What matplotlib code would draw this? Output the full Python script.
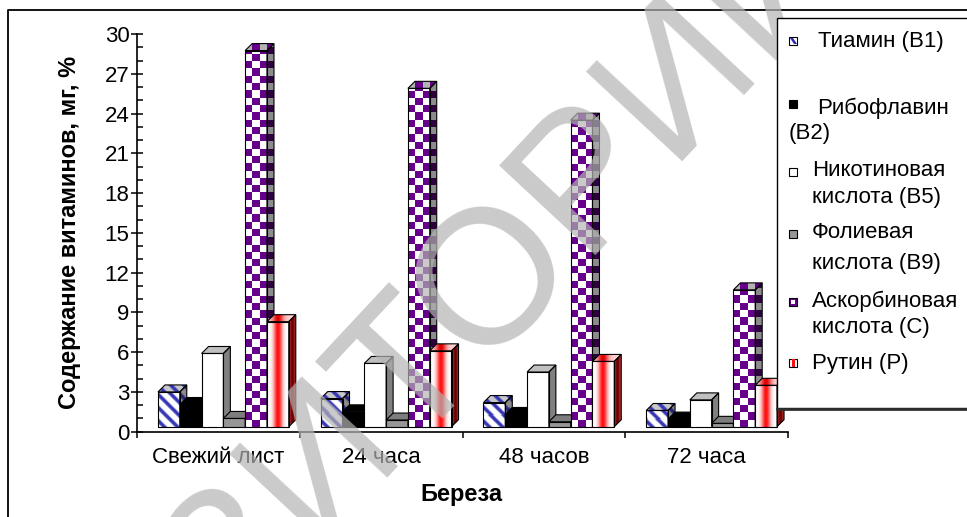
import matplotlib
matplotlib.use("Agg")
import matplotlib.pyplot as plt
import numpy as np
from matplotlib.patches import Polygon, Rectangle
from matplotlib.ticker import MultipleLocator

plt.rcParams['font.family'] = ['Liberation Sans', 'DejaVu Sans']

# содержание витаминов в листьях березы, мг %
categories = ['Свежий лист', '24 часа', '48 часов', '72 часа']
thiamin = [3.0, 2.5, 2.2, 1.6]
riboflavin = [2.05, 1.5, 1.3, 0.95]
nicotinic = [5.9, 5.15, 4.5, 2.4]
folic = [1.0, 0.88, 0.75, 0.63]
ascorbic = [28.75, 25.9, 23.5, 10.7]
rutin = [8.3, 6.1, 5.3, 3.5]

W, H = 967, 517
fig = plt.figure(figsize=(W / 100, H / 100), dpi=100)

def fx(px):
    return px / W

def fy(py):
    return 1 - py / H

AX_L, AX_R, AX_B, AX_T = 137, 788, 431.7, 34
ax = fig.add_axes([fx(AX_L), fy(AX_B), (AX_R - AX_L) / W, (AX_B - AX_T) / H])
ax.set_xlim(0, 4)
ax.set_ylim(0, 30)
PX = (AX_R - AX_L) / 4.0     # pixels per category
PY = (AX_B - AX_T) / 30.0    # pixels per unit

DEPTH = 7.0        # depth of a column, px
FLOOR = 5.0        # columns stand a little behind the axis line, px
BAR_W = 21.8 / PX
GROUP_W = 6 * BAR_W


# ---- fill patterns (pixel coords, y up) ----
def rgb(h):
    h = h.lstrip('#')
    return np.array([int(h[i:i + 2], 16) / 255 for i in (0, 2, 4)])

def solid(c):
    c = rgb(c)
    return lambda X, Y, x0, y0, w: np.broadcast_to(c, X.shape + (3,))

def stripes(bg, fg, period=13.0, width=5.0):
    bg, fg = rgb(bg), rgb(fg)
    def f(X, Y, x0, y0, w):
        d = np.mod(X - x0 + Y - y0, period)
        m = np.clip(1 - np.abs(d - period / 2) / (width / 2) + 0.5, 0, 1)[..., None]
        return bg * (1 - m) + fg * m
    return f

def checker(c1, c2, size=7.3):
    c1, c2 = rgb(c1), rgb(c2)
    def f(X, Y, x0, y0, w):
        k = (np.floor((X - x0) / size) + np.floor((Y - y0) / size)) % 2
        return np.where(k[..., None] == 0, c1, c2)
    return f

def gradient(edge, mid, pos=0.5, spread=0.2):
    edge, mid = rgb(edge), rgb(mid)
    def f(X, Y, x0, y0, w):
        t = (X - x0) / max(w, 1)
        m = np.exp(-((t - pos) / spread) ** 2)[..., None]
        return edge * (1 - m) + mid * m
    return f


def face(verts, pattern, x0, y0, w, z):
    verts = np.asarray(verts)
    lo, hi = verts.min(0), verts.max(0)
    nx = max(int(round((hi[0] - lo[0]) * PX)), 1)
    ny = max(int(round((hi[1] - lo[1]) * PY)), 1)
    gx = (lo[0] + (np.arange(nx) + 0.5) / nx * (hi[0] - lo[0])) * PX
    gy = (hi[1] - (np.arange(ny) + 0.5) / ny * (hi[1] - lo[1])) * PY
    X, Y = np.meshgrid(gx, gy)
    img = pattern(X, Y, x0 * PX, y0 * PY, w * PX)
    outline = Polygon(verts, closed=True, facecolor='none', edgecolor='black',
                      lw=0.8, zorder=z + 0.05)
    ax.add_patch(outline)
    im = ax.imshow(img, extent=(lo[0], hi[0], lo[1], hi[1]), origin='upper',
                   interpolation='nearest', aspect='auto', zorder=z)
    im.set_clip_path(outline)


def column(x, top, styles, z):
    front, side, topf = styles
    y0 = FLOOR / PY
    dx, dy = DEPTH / PX, DEPTH / PY
    x1 = x + BAR_W
    face([(x, y0), (x1, y0), (x1, top), (x, top)], front, x, y0, BAR_W, z)
    face([(x1, y0), (x1 + dx, y0 + dy), (x1 + dx, top + dy), (x1, top)], side, x1, y0, dx, z)
    face([(x, top), (x1, top), (x1 + dx, top + dy), (x + dx, top + dy)], topf, x, top, BAR_W, z)


series = [thiamin, riboflavin, nicotinic, folic, ascorbic, rutin]
styles = [
    (stripes('#ffffff', '#3535b5'), stripes('#8a8a8a', '#23237a'), stripes('#c8c8c8', '#3535b5')),
    (solid('#000000'), solid('#000000'), solid('#000000')),
    (solid('#ffffff'), solid('#808080'), solid('#c0c0c0')),
    (solid('#969696'), solid('#5c5c5c'), solid('#7d7d7d')),
    (checker('#ffffff', '#66008a'), checker('#8c8c8c', '#2e0040'), checker('#b4b4b4', '#66008a')),
    (gradient('#ffffff', '#ff1010', 0.5, 0.2), gradient('#cc4040', '#6a0000', 0.5, 0.35),
     gradient('#ffd0d0', '#e00000', 0.5, 0.25)),
]

z = 2
for i in range(len(categories)):
    gx = i + (1 - GROUP_W) / 2 + FLOOR / PX
    for j, vals in enumerate(series):
        column(gx + j * BAR_W, vals[i], styles[j], z)
        z += 0.2

ax.set_xlim(0, 4)
ax.set_ylim(0, 30)

# ---- axes ----
for s in ['top', 'right']:
    ax.spines[s].set_visible(False)
for s in ['left', 'bottom']:
    ax.spines[s].set_linewidth(1.2)
ax.yaxis.set_major_locator(MultipleLocator(3))
ax.yaxis.set_minor_locator(MultipleLocator(1))
ax.tick_params(axis='y', which='major', direction='inout', length=9, width=1.1,
               labelsize=16, pad=1)
ax.tick_params(axis='y', which='minor', direction='in', length=4.5, width=1.1)
ax.set_xticks(range(5))
ax.set_xticklabels([])
ax.set_xticks(np.arange(4) + 0.5, minor=True)
ax.set_xticklabels(categories, minor=True)
ax.tick_params(axis='x', which='major', direction='out', length=4, width=1.1)
ax.tick_params(axis='x', which='minor', length=0, labelsize=16, pad=11)

fig.text(fx(70), fy(232), 'Содержание витаминов, мг, %', rotation=90,
         ha='center', va='center', fontsize=17, fontweight='bold')
fig.text(fx(461), fy(495), 'Береза', ha='center', va='center',
         fontsize=17, fontweight='bold')

# ---- chart frame ----
fig.add_artist(plt.Line2D([fx(8), fx(8), fx(W + 5)], [fy(H + 5), fy(10), fy(10)],
                          color='black', lw=1.3))

# ---- watermark ----
fig.text(fx(322), fy(458), 'РЕПОЗИТОРИЙ', rotation=47, ha='center', va='center',
         fontsize=138, color='#b4b4b4', alpha=0.7, zorder=20,
         rotation_mode='anchor')

# ---- legend ----
fig.add_artist(Rectangle((fx(777), fy(408)), fx(W + 10) - fx(777), fy(18) - fy(408),
                         facecolor='white', edgecolor='black', lw=1.0, zorder=30))
fig.add_artist(plt.Line2D([fx(777), fx(W + 5)], [fy(408.5), fy(408.5)],
                          color='#303030', lw=2.0, zorder=31))

def sq(px, py, fc, s=8):
    r = Rectangle((fx(px), fy(py + s / 2)), s / W, s / H, facecolor=fc,
                  edgecolor='black', lw=0.8, zorder=32)
    fig.add_artist(r)
    return r

MX = 789
sq(MX, 41, 'white')
fig.add_artist(Polygon([(fx(MX + 1), fy(38)), (fx(MX + 4), fy(38)), (fx(MX + 8), fy(44)),
                        (fx(MX + 5), fy(44))], closed=True, facecolor='#2828b0',
                       edgecolor='none', zorder=33))
sq(MX, 104, 'black')
sq(MX, 172, 'white')
sq(MX, 234, '#969696')
sq(MX, 302, '#66008a')
fig.add_artist(Rectangle((fx(MX + 2), fy(304)), 4 / W, 4 / H, facecolor='white',
                         edgecolor='none', zorder=33))
sq(MX, 363, 'white')
fig.add_artist(Rectangle((fx(MX + 3), fy(367)), 3 / W, 8 / H, facecolor='#ff1010',
                         edgecolor='none', zorder=33))

legend_lines = [
    (818, 42, 'Тиамин (В1)'),
    (817, 108, 'Рибофлавин'),
    (789, 133, '(В2)'),
    (812, 171, 'Никотиновая'),
    (812, 197, 'кислота (В5)'),
    (812, 232, 'Фолиевая'),
    (812, 264, 'кислота (В9)'),
    (812, 301, 'Аскорбиновая'),
    (812, 328, 'кислота (С)'),
    (812, 363, 'Рутин (Р)'),
]
for px, py, s in legend_lines:
    fig.text(fx(px), fy(py), s, ha='left', va='center', fontsize=16, zorder=34)

fig.savefig('out.png', dpi=100)
